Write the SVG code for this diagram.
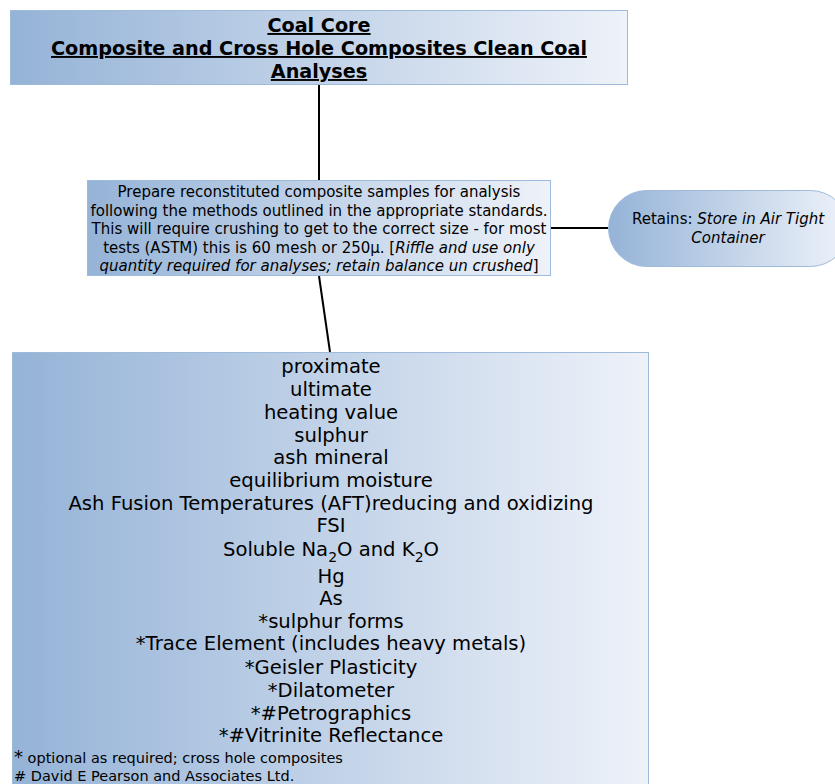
<svg xmlns="http://www.w3.org/2000/svg" width="835" height="784" viewBox="0 0 835 784">
<defs>
<linearGradient id="g" x1="0" y1="0" x2="1" y2="0">
<stop offset="0" stop-color="#95b3d7"/>
<stop offset="1" stop-color="#eef2f9"/>
</linearGradient>
</defs>
<style>
.box{fill:url(#g);stroke:#9fbbdc;stroke-width:1}
.c{stroke:#000;stroke-width:2;fill:none}
text{font-family:"DejaVu Sans",Verdana,sans-serif;fill:#000}
.t{font-size:19.2px;font-weight:bold;text-decoration:underline;text-anchor:middle}
.m{font-size:15px;text-anchor:middle}
.r{font-size:15px;text-anchor:middle}
.b{font-size:19.6px;text-anchor:middle}
.f{font-size:14.5px}
</style>
<rect width="835" height="784" fill="#fff"/>
<g id="connectors">
<line class="c" x1="319" y1="85" x2="319" y2="180"/>
<line class="c" x1="551" y1="228" x2="608" y2="228"/>
<line class="c" x1="319" y1="276" x2="330" y2="352"/>
</g>
<g id="title">
<rect class="box" x="10.5" y="10.5" width="617" height="74"/>
<text class="t" x="319" y="32">Coal Core</text>
<text class="t" x="319" y="55">Composite and Cross Hole Composites Clean Coal</text>
<text class="t" x="319" y="78">Analyses</text>
</g>
<g id="prepare">
<rect class="box" x="87.5" y="180.5" width="463" height="95"/>
<text class="m" x="319" y="197">Prepare reconstituted composite samples for analysis</text>
<text class="m" x="319" y="216">following the methods outlined in the appropriate standards.</text>
<text class="m" x="319" y="234">This will require crushing to get to the correct size - for most</text>
<text class="m" x="319" y="253">tests (ASTM) this is 60 mesh or 250µ. [<tspan font-style="italic">Riffle and use only</tspan></text>
<text class="m" x="319" y="271"><tspan font-style="italic">quantity required for analyses; retain balance un crushed</tspan>]</text>
</g>
<g id="retains">
<rect class="box" x="608.5" y="190.5" width="240" height="76" rx="38" ry="38"/>
<text class="r" x="728" y="224">Retains: <tspan font-style="italic">Store in Air Tight</tspan></text>
<text class="r" x="728" y="243" font-style="italic">Container</text>
</g>
<g id="analyses">
<rect class="box" x="12.5" y="352.5" width="636" height="440"/>
<text class="b" x="331" y="373">proximate</text>
<text class="b" x="331" y="396">ultimate</text>
<text class="b" x="331" y="419">heating value</text>
<text class="b" x="331" y="442">sulphur</text>
<text class="b" x="331" y="464">ash mineral</text>
<text class="b" x="331" y="487">equilibrium moisture</text>
<text class="b" x="331" y="510">Ash Fusion Temperatures (AFT)reducing and oxidizing</text>
<text class="b" x="331" y="532">FSI</text>
<text class="b" x="331" y="556">Soluble Na<tspan font-size="14" dy="6">2</tspan><tspan dy="-6">O and K</tspan><tspan font-size="14" dy="6">2</tspan><tspan dy="-6">O</tspan></text>
<text class="b" x="331" y="583">Hg</text>
<text class="b" x="331" y="605">As</text>
<text class="b" x="331" y="628">*sulphur forms</text>
<text class="b" x="331" y="650">*Trace Element (includes heavy metals)</text>
<text class="b" x="331" y="674">*Geisler Plasticity</text>
<text class="b" x="331" y="697">*Dilatometer</text>
<text class="b" x="331" y="720">*#Petrographics</text>
<text class="b" x="331" y="742">*#Vitrinite Reflectance</text>
<text class="f" x="14" y="763"><tspan font-size="18">*</tspan> optional as required; cross hole composites</text>
<text class="f" x="14" y="781"># David E Pearson and Associates Ltd.</text>
</g>
</svg>
